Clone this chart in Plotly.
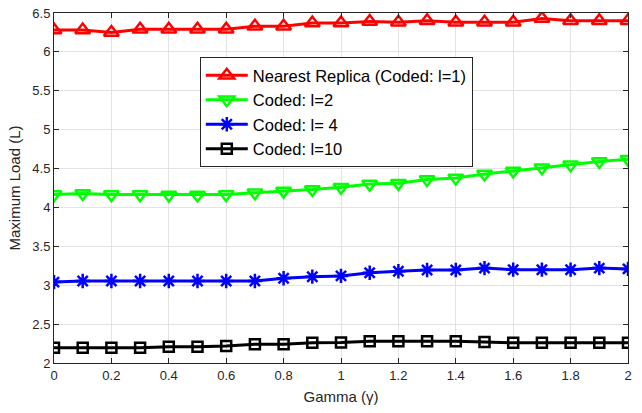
import plotly.graph_objects as go

gamma = [round(i * 0.1, 1) for i in range(21)]
red = [6.28, 6.28, 6.25, 6.29, 6.29, 6.29, 6.29, 6.33, 6.33, 6.37, 6.37, 6.39, 6.38, 6.40, 6.38, 6.38, 6.38, 6.43, 6.40, 6.40, 6.40]
green = [4.165, 4.18, 4.165, 4.165, 4.16, 4.16, 4.165, 4.19, 4.21, 4.23, 4.26, 4.30, 4.31, 4.36, 4.38, 4.43, 4.47, 4.51, 4.55, 4.59, 4.62]
blue = [3.04, 3.055, 3.055, 3.055, 3.055, 3.055, 3.055, 3.055, 3.09, 3.11, 3.12, 3.16, 3.18, 3.195, 3.195, 3.22, 3.20, 3.20, 3.20, 3.22, 3.21]
black = [2.196, 2.196, 2.196, 2.196, 2.21, 2.21, 2.22, 2.24, 2.24, 2.26, 2.265, 2.28, 2.28, 2.28, 2.28, 2.27, 2.26, 2.26, 2.26, 2.26, 2.26]

names = ["Nearest Replica (Coded: l=1)", "Coded: l=2", "Coded: l= 4", "Coded: l=10"]
series = [red, green, blue, black]
colors = ["#ff0000", "#00ff00", "#0000ff", "#000000"]
symbols = ["triangle-up-open", "triangle-down-open", "asterisk-open", "square-open"]
sizes = [13, 13, 12, 10]

fig = go.Figure()
for n, s, c, sym, sz in zip(names, series, colors, symbols, sizes):
    fig.add_trace(go.Scatter(
        x=gamma, y=s, name=n, mode="lines+markers",
        line=dict(color=c, width=3),
        marker=dict(symbol=sym, size=sz, color=c, line=dict(color=c, width=2.5)),
    ))

axis_common = dict(
    showline=True, linecolor="#262626", linewidth=1, mirror="ticks",
    ticks="inside", ticklen=5, tickcolor="#262626",
    showgrid=True, gridcolor="#e3e3e3", gridwidth=1,
    zeroline=False, tickfont=dict(size=13, color="#262626"),
    automargin=False,
)
fig.update_xaxes(range=[0, 2], dtick=0.2, tick0=0,
                 title=dict(text="Gamma (γ)", font=dict(size=15, color="#262626"), standoff=9),
                 **axis_common)
fig.update_yaxes(range=[2, 6.5], dtick=0.5, tick0=2,
                 title=dict(text="Maximum Load (L)", font=dict(size=15, color="#262626"), standoff=8),
                 **axis_common)

fig.update_layout(
    width=642, height=413,
    margin=dict(l=54, r=14, t=13, b=50),
    paper_bgcolor="white", plot_bgcolor="white",
    font=dict(family="Liberation Sans, Arial, sans-serif", color="#262626"),
    legend=dict(x=0.254, y=0.874, xanchor="left", yanchor="top",
                bgcolor="white", bordercolor="#262626", borderwidth=1,
                font=dict(size=16.5, color="#000000"), tracegroupgap=0,
                itemwidth=42),
    showlegend=True,
)

fig.write_html("out.html", config={"displayModeBar": False},
               post_script="document.body.style.margin='0';")
